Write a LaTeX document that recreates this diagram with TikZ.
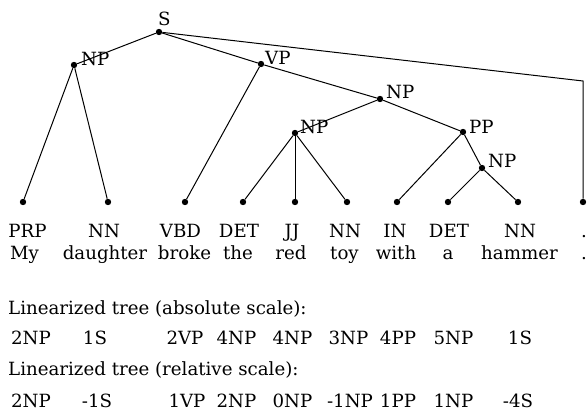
\documentclass[tikz,border=0pt]{standalone}
\usepackage{fontspec}
\setmainfont{DejaVu Serif}
\begin{document}
\begin{tikzpicture}[x=1pt,y=-1pt,
  txt/.style={inner sep=0pt,font=\fontsize{18.2}{21}\selectfont},
  dot/.style={circle,fill=black,inner sep=0pt,minimum size=6.4pt},
  edge/.style={line width=1pt}]
\useasboundingbox (0,0) rectangle (587,417);
% tree points
\node[dot] (S) at (159,32) {};
\node[dot] (NPa) at (74,65) {};
\node[dot] (VP) at (261,64) {};
\node[dot] (NPb) at (380,99) {};
\node[dot] (NPc) at (295,133) {};
\node[dot] (PP) at (463,132) {};
\node[dot] (NPd) at (482,168) {};
\coordinate (Sc) at (583,81);
% leaves
\foreach \n/\x in {l1/23,l2/108,l3/185,l4/243,l5/295,l6/347,l7/397,l8/448,l9/518,l10/583}
  \node[dot] (\n) at (\x,202) {};
% edges
\draw[edge] (S) -- (NPa);
\draw[edge] (S) -- (VP);
\draw[edge] (S) -- (Sc) -- (l10);
\draw[edge] (NPa) -- (l1);
\draw[edge] (NPa) -- (l2);
\draw[edge] (VP) -- (l3);
\draw[edge] (VP) -- (NPb);
\draw[edge] (NPb) -- (NPc);
\draw[edge] (NPb) -- (PP);
\draw[edge] (NPc) -- (l4);
\draw[edge] (NPc) -- (l5);
\draw[edge] (NPc) -- (l6);
\draw[edge] (PP) -- (l7);
\draw[edge] (PP) -- (NPd);
\draw[edge] (NPd) -- (l8);
\draw[edge] (NPd) -- (l9);
% node labels
\node[txt,anchor=base west] (tS) at (158,26) {S};
\node[txt,anchor=base west] (tNPa) at (81,66) {NP};
\node[txt,anchor=base west] (tVP) at (265,65) {VP};
\node[txt,anchor=base west] (tNPb) at (386,99) {NP};
\node[txt,anchor=base west] (tNPc) at (300,134) {NP};
\node[txt,anchor=base west] (tPP) at (469,134) {PP};
\node[txt,anchor=base west] (tNPd) at (488,168) {NP};
% tags
\foreach \n/\x/\t in {g1/27.5/PRP,g2/104/NN,g3/180.5/VBD,g4/239/DET,g5/292/JJ,g6/345/NN,g7/395/IN,g8/449/DET,g9/520/NN,g10/584/.}
  \node[txt,anchor=base] (\n) at (\x,238) {\t};
% words
\foreach \n/\x/\t in {w1/24.5/My,w2/105/daughter,w3/184.5/broke,w4/238/the,w5/291/red,w6/344.5/toy,w7/396/with,w8/448/a,w9/519.5/hammer,w10/584/.}
  \node[txt,anchor=base] (\n) at (\x,259) {\t};
% linearized
\node[txt,anchor=base west] (h1) at (8,314) {Linearized tree (absolute scale):};
\foreach \n/\x/\t in {a1/31/2NP,a2/95/1S,a3/185/2VP,a4/236.5/4NP,a5/292.5/4NP,a6/348.5/3NP,a7/398/4PP,a8/453.5/5NP,a9/520/1S}
  \node[txt,anchor=base] (\n) at (\x,344) {\t};
\node[txt,anchor=base west] (h2) at (8,375) {Linearized tree (relative scale):};
\foreach \n/\x/\t in {r1/31/2NP,r2/97/-1S,r3/187/1VP,r4/236.5/2NP,r5/292.5/0NP,r6/350/-1NP,r7/398/1PP,r8/453.5/1NP,r9/518/-4S}
  \node[txt,anchor=base] (\n) at (\x,407) {\t};
\end{tikzpicture}
\end{document}
